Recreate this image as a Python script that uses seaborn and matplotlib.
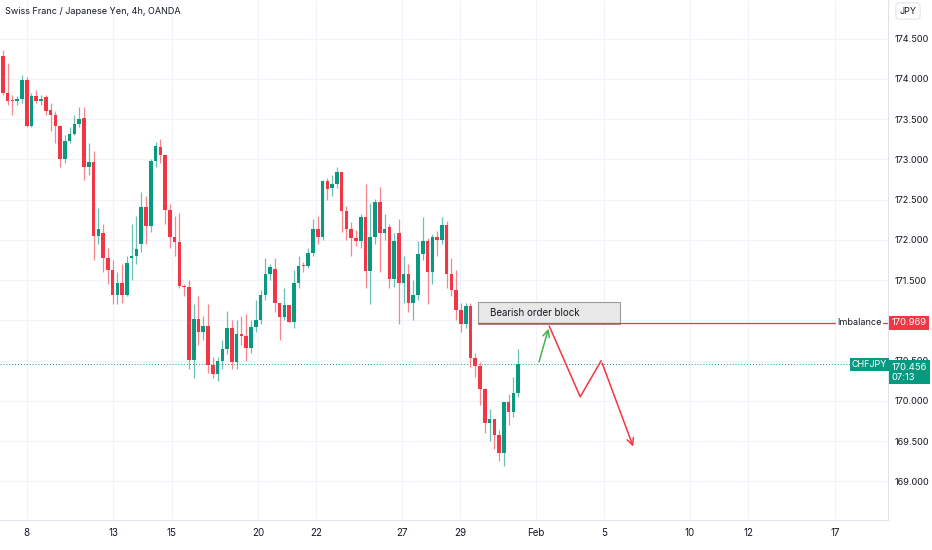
import numpy as np
import pandas as pd
import matplotlib
matplotlib.use("Agg")
import matplotlib.pyplot as plt
import seaborn as sns

# 4h candles (oldest first)
opens = [174.29, 173.83, 173.73, 173.72, 173.75, 173.99, 173.42, 173.79, 173.73, 173.78,
         173.61, 173.55, 173.42, 173.01, 173.23, 173.32, 173.44, 173.51, 172.90, 172.97,
         172.05, 172.09, 171.78, 171.63, 171.32, 171.47, 171.31, 171.77, 171.80, 171.95,
         172.41, 172.17, 172.98, 173.16, 173.05, 172.37, 172.03, 171.97, 171.43, 171.42,
         170.51, 171.02, 170.85, 170.93, 170.45, 170.33, 170.49, 170.65, 170.90, 170.48,
         170.83, 170.81, 170.66, 170.92, 171.01, 171.32, 171.57, 171.64, 171.22, 171.04,
         171.19, 170.98, 171.46, 171.69, 171.68, 171.84, 172.13, 172.04, 172.73, 172.65,
         172.70, 172.84, 172.36, 172.13, 172.02, 171.98, 172.28, 171.61, 172.04, 172.47,
         172.08, 172.16, 171.51, 172.09, 171.47, 171.58, 171.21, 171.31, 171.83, 171.98,
         171.60, 172.04, 172.00, 172.19, 171.58, 171.38, 171.13, 170.96, 171.18, 170.53,
         170.43, 170.15, 169.73, 169.78, 169.58, 169.35, 169.98, 169.86, 170.10]
closes = [173.83, 173.73, 173.72, 173.75, 173.99, 173.42, 173.79, 173.73, 173.75, 173.60,
          173.55, 173.42, 173.01, 173.23, 173.32, 173.44, 173.50, 172.90, 172.97, 172.05,
          172.13, 171.78, 171.63, 171.32, 171.47, 171.31, 171.71, 171.80, 171.89, 172.41,
          172.17, 172.98, 173.17, 173.05, 172.37, 172.03, 171.97, 171.43, 171.42, 170.51,
          171.02, 170.85, 170.93, 170.45, 170.33, 170.49, 170.65, 170.90, 170.48, 170.83,
          170.81, 170.66, 170.92, 171.01, 171.32, 171.57, 171.66, 171.22, 171.04, 171.19,
          170.98, 171.46, 171.68, 171.67, 171.84, 172.13, 172.04, 172.73, 172.63, 172.70,
          172.84, 172.36, 172.13, 172.02, 171.98, 172.28, 171.61, 172.04, 172.47, 172.08,
          172.14, 171.51, 171.98, 171.47, 171.58, 171.21, 171.31, 171.83, 171.98, 171.60,
          172.04, 172.00, 172.19, 171.58, 171.38, 171.13, 170.96, 171.18, 170.53, 170.43,
          170.15, 169.73, 169.78, 169.58, 169.35, 169.98, 169.86, 170.10, 170.456]
highs = [174.36, 174.20, 173.80, 173.79, 174.05, 174.02, 173.82, 173.86, 173.80, 173.80,
         173.70, 173.60, 173.43, 173.30, 173.40, 173.55, 173.65, 173.65, 173.20, 173.10,
         172.40, 172.20, 171.90, 171.75, 171.60, 171.70, 171.80, 172.20, 172.30, 172.60,
         172.55, 173.00, 173.22, 173.25, 173.05, 172.45, 172.30, 172.33, 171.45, 171.50,
         171.20, 171.30, 171.05, 171.20, 170.55, 170.55, 170.75, 171.12, 171.00, 171.00,
         171.05, 171.08, 171.00, 171.25, 171.38, 171.78, 171.70, 171.78, 171.15, 171.40,
         171.08, 171.62, 171.80, 171.72, 171.90, 172.26, 172.30, 172.75, 172.77, 172.81,
         172.90, 172.84, 172.42, 172.22, 172.12, 172.32, 172.70, 172.46, 172.51, 172.66,
         172.32, 172.20, 172.09, 172.26, 171.80, 171.70, 171.50, 171.98, 172.29, 172.02,
         172.07, 172.11, 172.28, 172.24, 171.78, 171.62, 171.22, 171.22, 171.22, 170.60,
         170.48, 170.16, 169.90, 169.78, 169.64, 169.98, 170.08, 170.30, 170.65]
lows = [173.80, 173.67, 173.55, 173.68, 173.70, 173.40, 173.40, 173.70, 173.68, 173.55,
        173.35, 173.20, 172.90, 172.95, 173.20, 173.30, 173.40, 172.75, 172.80, 171.75,
        171.95, 171.60, 171.45, 171.20, 171.20, 171.22, 171.30, 171.50, 171.70, 171.85,
        171.95, 172.10, 172.90, 172.95, 172.20, 171.90, 171.80, 171.40, 171.30, 170.40,
        170.28, 170.70, 170.75, 170.35, 170.28, 170.25, 170.40, 170.58, 170.40, 170.40,
        170.70, 170.50, 170.60, 170.85, 170.95, 171.25, 171.50, 171.10, 170.75, 171.00,
        170.98, 170.90, 171.40, 171.60, 171.65, 171.80, 171.95, 172.00, 172.50, 172.55,
        172.65, 172.10, 172.00, 171.80, 171.92, 171.90, 171.40, 171.20, 171.95, 171.60,
        172.00, 171.40, 171.42, 170.95, 171.22, 171.10, 171.00, 171.25, 171.75, 171.20,
        171.45, 171.80, 171.95, 171.40, 171.30, 171.00, 170.85, 170.91, 170.42, 170.30,
        169.95, 169.60, 169.50, 169.40, 169.25, 169.19, 169.70, 169.80, 170.05]

date_labels = ["8", "13", "15", "20", "22", "27", "29", "Feb", "5", "10", "12", "17"]
date_pos = [5.0, 23.1, 35.4, 53.5, 65.6, 83.6, 95.8, 111.7, 126.0, 144.0, 156.2, 174.4]
price_ticks = [169.0, 169.5, 170.0, 170.5, 171.0, 171.5, 172.0, 172.5, 173.0, 173.5, 174.0, 174.5]

imbalance = 170.969
last_price = 170.456
ob_start, ob_end, ob_low, ob_high = 99.6, 129.4, 170.96, 171.23
up_path_x = [112.2, 114.5]
up_path_y = [170.45, 170.93]
down_path_x = [114.5, 121.0, 125.4, 132.3]
down_path_y = [170.93, 170.05, 170.50, 169.40]

UP = "#089981"
DOWN = "#f23645"

sns.set_theme(style="white")
plt.rcParams['font.family'] = ['Inter', 'DejaVu Sans']

df = pd.DataFrame({"open": opens, "close": closes, "high": highs, "low": lows})
df["x"] = np.arange(len(df))
df["color"] = np.where(df["close"] >= df["open"], UP, DOWN)

fig = plt.figure(figsize=(9.32, 5.5), dpi=100)
ax = fig.add_axes([0, 30 / 550, 888 / 932, 520 / 550])

# wicks and bodies
ax.vlines(df["x"], df["low"], df["high"], colors=df["color"], linewidth=0.9, alpha=0.6, zorder=2)
body_h = (df["close"] - df["open"]).abs().clip(lower=0.012)
body_b = df[["open", "close"]].min(axis=1)
ax.bar(df["x"], body_h, bottom=body_b, width=0.75, color=df["color"], linewidth=0, zorder=3)

ax.set_xlim(-0.6, 185.5)
ax.set_ylim(168.52, 174.98)

for p in price_ticks:
    ax.axhline(p, color="#f0f3fa", linewidth=0.8, zorder=0)
for d in date_pos:
    ax.axvline(d, color="#f0f3fa", linewidth=0.8, zorder=0)

ax.set_xticks(date_pos)
ax.set_xticklabels(date_labels, fontsize=7, color="#131722")
ax.set_yticks(price_ticks)
ax.set_yticklabels([f"{p:.3f}" for p in price_ticks], fontsize=6.6, color="#131722")
ax.yaxis.tick_right()
ax.tick_params(axis="both", length=0)
ax.tick_params(axis="y", pad=5)
ax.tick_params(axis="x", pad=6)
for s in ["top", "left"]:
    ax.spines[s].set_visible(False)
for s in ["bottom", "right"]:
    ax.spines[s].set_color("#e0e3eb")
    ax.spines[s].set_linewidth(0.8)

# order block + imbalance line
ax.add_patch(plt.Rectangle((ob_start, ob_low), ob_end - ob_start, ob_high - ob_low,
                           facecolor="#e8e8e8", edgecolor="#9a9a9a", linewidth=0.8, zorder=4))
ax.text((ob_start + ob_end) / 2 - 3, (ob_low + ob_high) / 2, "Bearish order block",
        ha="center", va="center", fontsize=7, color="#131722", zorder=5)
ax.hlines(imbalance, ob_start, 185.5, color=DOWN, linewidth=0.9, zorder=4)
ax.text(0.993, imbalance, "Imbalance", transform=ax.get_yaxis_transform(), ha="right",
        va="center", fontsize=6.5, color="#131722", clip_on=False, zorder=6,
        bbox=dict(facecolor="white", edgecolor="none", pad=1))
ax.text(1.004, imbalance, f"{imbalance:.3f}", transform=ax.get_yaxis_transform(), ha="left",
        va="center", fontsize=6.8, color="white", clip_on=False,
        bbox=dict(facecolor=DOWN, edgecolor="none", pad=2), zorder=7)

# last price
ax.axhline(last_price, color=UP, linewidth=0.7, linestyle=(0, (1, 2)), zorder=1)
ax.text(0.999, last_price, "CHFJPY", transform=ax.get_yaxis_transform(), ha="right",
        va="center", fontsize=6.5, color="white", clip_on=False,
        bbox=dict(facecolor=UP, edgecolor="none", pad=1.5), zorder=7)
ax.text(1.004, last_price - 0.1, f"{last_price:.3f}\n07:13", transform=ax.get_yaxis_transform(),
        ha="left", va="center", fontsize=6.8, color="white", clip_on=False, linespacing=1.1,
        bbox=dict(facecolor=UP, edgecolor="none", pad=2), zorder=7)

# projected path
ax.annotate("", xy=(up_path_x[-1], up_path_y[-1]), xytext=(up_path_x[-2], up_path_y[-2]),
            arrowprops=dict(arrowstyle="->", color="#4caf50", lw=1.1), zorder=6)
sns.lineplot(x=down_path_x[:-1], y=down_path_y[:-1], ax=ax, color=DOWN, linewidth=1.1,
             sort=False, estimator=None)
ax.annotate("", xy=(down_path_x[-1], down_path_y[-1]), xytext=(down_path_x[-2], down_path_y[-2]),
            arrowprops=dict(arrowstyle="->", color=DOWN, lw=1.1), zorder=6)

fig.text(5 / 932, 1 - 11 / 550, "Swiss Franc / Japanese Yen, 4h, OANDA", fontsize=6.5,
         color="#131722", va="center")
fig.text(908 / 932, 1 - 11 / 550, "JPY", fontsize=6.5, color="#131722", ha="center", va="center",
         bbox=dict(facecolor="white", edgecolor="#e0e3eb", boxstyle="round,pad=0.4", linewidth=0.8))

fig.savefig("out.png", dpi=100, facecolor="white")
